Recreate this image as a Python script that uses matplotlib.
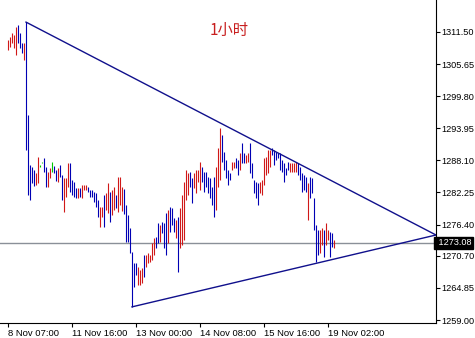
import numpy as np
import matplotlib
matplotlib.use('Agg')
import matplotlib.pyplot as plt
import matplotlib.transforms as mtrans

#hourly bars, high and low of each bar
highs=[1310.0,1310.6,1311.3,1311.0,1312.4,1312.8,1311.3,1309.5,1309.5,1313.3,
       1296.4,1287.2,1286.9,1286.3,1285.8,1288.7,1287.2,1287.8,1288.5,1286.9,
       1286.0,1286.7,1287.8,1287.1,1286.3,1286.7,1287.2,1285.4,1284.9,1284.9,
       1287.6,1287.6,1284.5,1284.2,1283.1,1283.1,1283.1,1283.6,1283.6,1283.6,
       1283.2,1282.7,1282.7,1282.3,1282.2,1280.9,1279.6,1279.6,1281.8,1282.2,
       1284.0,1282.3,1282.7,1283.2,1281.8,1285.1,1285.1,1283.2,1282.9,1280.0,
       1278.1,1275.8,1271.4,1269.4,1269.4,1268.7,1268.1,1268.5,1270.8,1270.8,
       1271.2,1270.8,1273.0,1273.9,1274.1,1276.7,1276.3,1276.9,1276.7,1278.5,
       1279.1,1279.6,1279.4,1277.6,1277.2,1277.8,1279.4,1281.8,1284.2,1286.3,
       1285.8,1286.0,1284.9,1285.8,1286.3,1286.3,1287.8,1286.9,1286.0,1286.0,
       1285.1,1284.9,1283.2,1285.1,1286.9,1290.4,1294.0,1292.7,1289.6,1288.2,
       1286.3,1285.8,1287.8,1287.8,1288.5,1288.2,1289.4,1291.3,1289.4,1289.1,
       1289.4,1291.3,1287.6,1284.5,1284.2,1284.0,1284.2,1284.5,1288.5,1288.7,
       1290.0,1290.0,1290.4,1290.0,1289.6,1289.4,1289.4,1288.2,1287.6,1286.7,
       1287.8,1287.6,1287.6,1287.6,1287.8,1287.6,1286.9,1285.8,1285.4,1285.1,
       1284.0,1285.1,1284.9,1281.2,1276.3,1275.4,1275.4,1275.8,1275.4,1276.7,
       1275.4,1275.0,1274.9,1273.6]
lows=[1308.2,1308.8,1309.5,1308.6,1307.3,1309.5,1308.6,1307.7,1306.4,1290.0,
      1281.8,1280.9,1284.0,1283.4,1283.6,1284.0,1286.9,1287.6,1286.0,1283.2,
      1283.2,1284.9,1286.0,1285.8,1284.3,1284.2,1285.1,1280.9,1278.7,1281.4,
      1283.2,1282.3,1281.8,1281.4,1281.2,1281.2,1281.4,1281.2,1282.7,1282.7,
      1282.3,1281.4,1281.4,1280.5,1279.6,1277.8,1276.0,1277.8,1276.0,1279.1,
      1278.5,1276.9,1278.1,1279.1,1279.4,1278.7,1280.0,1278.9,1278.3,1273.2,
      1273.2,1271.2,1261.4,1265.0,1267.2,1265.4,1265.4,1265.7,1266.8,1268.7,
      1269.4,1269.6,1269.9,1270.8,1272.1,1273.0,1273.2,1274.9,1272.1,1270.8,
      1273.0,1275.0,1276.3,1275.0,1273.9,1267.8,1272.1,1272.7,1273.6,1280.9,
      1281.8,1283.2,1280.3,1283.1,1282.2,1284.2,1282.7,1284.2,1282.3,1283.2,
      1282.2,1281.2,1280.0,1277.8,1279.1,1283.2,1284.5,1287.8,1286.3,1284.9,
      1283.6,1284.5,1286.3,1286.7,1286.7,1285.4,1286.3,1287.6,1287.6,1287.6,
      1287.8,1285.8,1284.9,1282.2,1281.2,1280.0,1282.2,1281.8,1283.6,1285.4,
      1285.8,1286.9,1289.1,1287.2,1288.2,1288.5,1286.3,1286.0,1284.2,1285.4,
      1286.3,1286.0,1286.0,1286.0,1286.0,1285.4,1284.5,1282.3,1282.7,1282.3,
      1277.2,1281.2,1282.2,1275.4,1269.6,1270.8,1271.2,1272.7,1270.5,1272.7,
      1273.6,1270.5,1272.3,1272.1]
#r = up bar, b = down bar, g = doji
direction=("rrrrr"+"bbb"+"r"+"bbbbb"+"rr"+"gg"+"bb"+"rr"+"g"+"bb"+"r"+"bb"+"rrr"+"bbbb"
           +"r"+"b"+"rrr"+"bbbbbb"+"rr"+"b"+"rr"+"b"+"rr"+"b"+"rrr"+"bbbbbbb"+"rrr"+"b"
           +"rrrrr"+"bb"+"r"+"bbb"+"r"+"bbb"+"r"+"b"+"rrrrr"+"bb"+"rrrr"+"bbbbbbb"+"rrr"
           +"bbbbb"+"rr"+"bb"+"r"+"bb"+"rr"+"bbbbb"+"rrrrrr"+"bbbbbbbbb"+"rrrr"+"bbbbb"
           +"r"+"bbbbb"+"rr"+"b"+"rr"+"bb"+"r")
last_price=1273.08

#tick labels
x_ticks=[0,32,64,96,128,160]
x_labels=['8 Nov 07:00','11 Nov 16:00','13 Nov 00:00','14 Nov 08:00','15 Nov 16:00','19 Nov 02:00']
y_ticks=[1259.00,1264.85,1270.70,1276.40,1282.25,1288.10,1293.95,1299.80,1305.65,1311.50]

#triangle drawn on the chart (bar index, price)
upper_line=[(9,1313.3),(214,1274.5)]
lower_line=[(62,1261.4),(214,1274.5)]

bar_colors={'r':'#d01818','b':'#0000b4','g':'#00c800'}
lab_font=['Liberation Sans','DejaVu Sans']

fig=plt.figure(figsize=(4.75,3.38),dpi=100)
ax=fig.add_axes([0,15/338,436/475,323/338])

idx=np.arange(len(highs))
cols=[bar_colors[c] for c in direction]
hi=np.array(highs)
lo=np.array(lows)
#doji bars are almost flat, give them a pixel
lo=np.where(hi-lo<0.15,hi-0.2,lo)
ax.vlines(idx,lo,hi,colors=cols,linewidth=0.8)

ax.axhline(last_price,color='#8a9098',linewidth=1.0,zorder=0)

ux,uy=zip(*upper_line)
lx,ly=zip(*lower_line)
ax.plot(ux,uy,color='#10108c',linewidth=1.0)
ax.plot(lx,ly,color='#10108c',linewidth=1.0)

ax.set_xlim(-4,214)
ax.set_ylim(1258.46,1317.33)

for s in ['left','top']:
    ax.spines[s].set_visible(False)
ax.spines['right'].set_color('black')
ax.spines['bottom'].set_color('black')

ax.yaxis.tick_right()
ax.set_yticks(y_ticks)
ax.set_yticklabels(['%.2f'%v for v in y_ticks])
ax.set_xticks(x_ticks)
ax.set_xticklabels(x_labels)
ax.tick_params(axis='y',direction='out',length=3,width=0.8,pad=1.2,labelsize=6.6,colors='black')
ax.tick_params(axis='x',direction='out',length=3,width=0.8,pad=1.5,labelsize=6.8,colors='black')
for lbl in ax.get_xticklabels()+ax.get_yticklabels():
    lbl.set_family(lab_font)
for lbl in ax.get_xticklabels():
    lbl.set_ha('left')

#current price box on the axis
trans=mtrans.blended_transform_factory(ax.transAxes,ax.transData)
ax.text(1.0,last_price,' 1273.08',transform=trans,ha='left',va='center',
        color='white',fontsize=6.6,family=lab_font,
        bbox=dict(facecolor='black',edgecolor='black',pad=1.2),clip_on=False)

ax.text(0.526,0.907,'1小时',transform=ax.transAxes,ha='center',va='center',
        color='#c81e1e',fontsize=11,family=['Noto Sans CJK SC','DejaVu Sans'])

fig.savefig('out.png',dpi=100,facecolor='white')
